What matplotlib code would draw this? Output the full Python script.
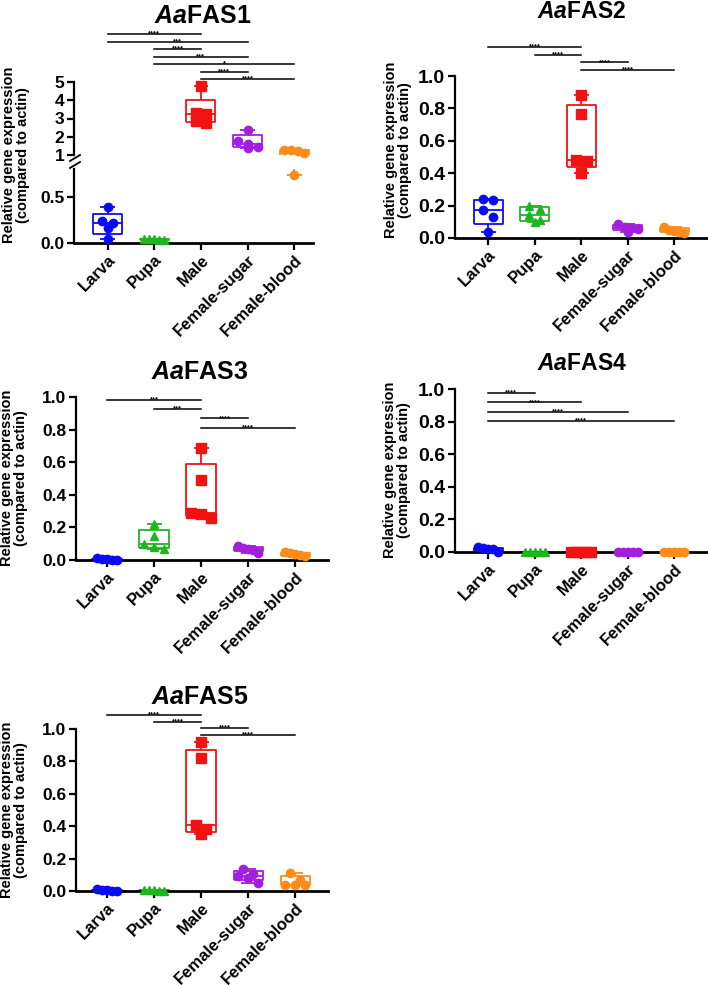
import numpy as np
import matplotlib
matplotlib.use('Agg')
import matplotlib.pyplot as plt
from matplotlib import transforms

plt.rcParams['font.family'] = ['Liberation Sans', 'DejaVu Sans']
plt.rcParams['font.weight'] = 'bold'
plt.rcParams['mathtext.fontset'] = 'custom'
plt.rcParams['mathtext.it'] = 'Liberation Sans:italic:bold'
plt.rcParams['mathtext.rm'] = 'Liberation Sans:bold'

W, H = 708, 985

# groups and styling per group
groups = ['Larva', 'Pupa', 'Male', 'Female-sugar', 'Female-blood']
colors = ['#0c0cf2', '#1fb51f', '#f21212', '#a41fdd', '#ff8c1a']
markers = ['o', '^', 's', 'o', 'o']

# relative expression values
fas1 = [[0.04, 0.165, 0.22, 0.24, 0.39],
        [0.03, 0.035, 0.04, 0.04, 0.045],
        [2.77, 2.86, 3.22, 3.30, 4.78],
        [1.40, 1.45, 1.60, 1.78, 2.38],
        [0.74, 1.10, 1.22, 1.27, 1.30]]
fas2 = [[0.04, 0.13, 0.17, 0.235, 0.24],
        [0.10, 0.11, 0.145, 0.18, 0.20],
        [0.40, 0.475, 0.48, 0.765, 0.88],
        [0.04, 0.055, 0.06, 0.07, 0.085],
        [0.03, 0.04, 0.045, 0.05, 0.07]]
fas3 = [[0.0, 0.002, 0.005, 0.008, 0.01],
        [0.065, 0.08, 0.10, 0.145, 0.22],
        [0.26, 0.285, 0.29, 0.49, 0.69],
        [0.045, 0.06, 0.065, 0.075, 0.085],
        [0.025, 0.03, 0.035, 0.04, 0.05]]
fas4 = [[0.0, 0.018, 0.02, 0.022, 0.028],
        [0.0, 0.0, 0.001, 0.001, 0.002],
        [0.0, 0.0, 0.0, 0.001, 0.001],
        [0.0, 0.0, 0.001, 0.001, 0.001],
        [0.0, 0.0, 0.0, 0.001, 0.001]]
fas5 = [[0.0, 0.003, 0.005, 0.008, 0.01],
        [0.0, 0.002, 0.004, 0.006, 0.008],
        [0.35, 0.38, 0.41, 0.82, 0.92],
        [0.052, 0.078, 0.09, 0.107, 0.134],
        [0.035, 0.037, 0.04, 0.07, 0.11]]

# significance comparisons, top to bottom
sig1 = [(0, 2, '****'), (0, 3, '***'), (1, 2, '****'), (1, 3, '***'),
        (1, 4, '*'), (2, 3, '****'), (2, 4, '****')]
sig2 = [(0, 2, '****'), (1, 2, '****'), (2, 3, '****'), (2, 4, '****')]
sig3 = [(0, 2, '***'), (1, 2, '***'), (2, 3, '****'), (2, 4, '****')]
sig4 = [(0, 1, '****'), (0, 2, '****'), (0, 3, '****'), (0, 4, '****')]
sig5 = [(0, 2, '****'), (1, 2, '****'), (2, 3, '****'), (2, 4, '****')]

fig = plt.figure(figsize=(W / 100, H / 100), dpi=100)


def rect(x0, y0, x1, y1):
    return [x0 / W, 1 - y1 / H, (x1 - x0) / W, (y1 - y0) / H]


def style_ax(ax, bottom=True, ysize=12.5):
    for s in ['top', 'right']:
        ax.spines[s].set_visible(False)
    ax.spines['left'].set_linewidth(1.6)
    ax.spines['bottom'].set_linewidth(2.0)
    if not bottom:
        ax.spines['bottom'].set_visible(False)
    ax.tick_params(axis='y', width=1.6, length=5, labelsize=ysize, pad=2)
    ax.tick_params(axis='x', width=1.6, length=5, labelsize=12, pad=1.5)
    for lab in ax.get_yticklabels():
        lab.set_fontweight('bold')


def swarm_offsets(ax, xc, vals, row_px=6.8):
    # points that sit close in height share a row and are spread around the centre
    pts = ax.transData.transform(np.column_stack([np.full(len(vals), xc), vals]))
    ys = pts[:, 1]
    px_per_x = ax.transData.transform([[1, 0]])[0, 0] - ax.transData.transform([[0, 0]])[0, 0]
    order = np.argsort(-np.asarray(vals))
    rows = []
    for k in order:
        if rows and abs(ys[rows[-1][0]] - ys[k]) < row_px:
            rows[-1].append(k)
        else:
            rows.append([k])
    offs = np.zeros(len(vals))
    for r in rows:
        m = len(r)
        if m == 1:
            continue
        dx = min(10.5, 20.0 / (m - 1))
        for j, k in enumerate(r):
            offs[k] = (j - (m - 1) / 2) * dx / px_per_x
    return offs


def draw_group(ax, i, vals, lo=None, hi=None):
    vals = np.array(vals)
    c = colors[i]
    q1, med, q3 = np.percentile(vals, [25, 50, 75], method='weibull')
    bw, cw = 0.31, 0.16
    kw = dict(color=c, lw=1.3, solid_capstyle='butt', zorder=2)
    ax.plot([i - bw, i + bw, i + bw, i - bw, i - bw], [q1, q1, q3, q3, q1], **kw)
    ax.plot([i - bw, i + bw], [med, med], **kw)
    ax.plot([i, i], [vals.min(), q1], **kw)
    ax.plot([i, i], [q3, vals.max()], **kw)
    ax.plot([i - cw, i + cw], [vals.min()] * 2, **kw)
    ax.plot([i - cw, i + cw], [vals.max()] * 2, **kw)
    offs = swarm_offsets(ax, i, vals)
    keep = np.ones(len(vals), bool)
    if lo is not None:
        keep &= vals >= lo
    if hi is not None:
        keep &= vals <= hi
    ms = 6.5 if markers[i] == 's' else 6
    ax.plot(i + offs[keep], vals[keep], linestyle='none', marker=markers[i], ms=ms,
            color=c, mec=c, clip_on=False, zorder=3)


def setup_x(ax, xlim):
    ax.set_xlim(*xlim)
    ax.set_xticks(range(len(groups)))
    ax.set_xticklabels(groups, rotation=45, ha='right', va='top',
                       rotation_mode='anchor', fontweight='bold')


def sig_bars(ax, sigs, y_top, step):
    tr = transforms.blended_transform_factory(ax.transData, fig.transFigure)
    for k, (a, b, lab) in enumerate(sigs):
        y = 1 - (y_top + k * step) / H
        ax.plot([a, b], [y, y], color='black', lw=1.1, transform=tr, clip_on=False)
        ax.text((a + b) / 2, y - 1.5 / H, lab, transform=tr, ha='center', va='baseline',
                fontsize=5.5, fontweight='bold')


def title(xc, yc, name, size=18):
    fig.text(xc / W, 1 - yc / H, r'$\mathit{Aa}$' + name, ha='center', va='center',
             fontsize=size, fontweight='bold')


def ylabel(xc, yc):
    fig.text(xc / W, 1 - yc / H, 'Relative gene expression\n(compared to actin)',
             rotation=90, ha='center', va='center', fontsize=10.5, fontweight='bold',
             multialignment='center', linespacing=1.0)


def simple_panel(box, data, sigs, sig_top, sig_step, xlim, ysize):
    ax = fig.add_axes(rect(*box))
    ax.set_ylim(0, 1.0)
    ax.set_yticks([0, 0.2, 0.4, 0.6, 0.8, 1.0])
    ax.set_yticklabels(['0.0', '0.2', '0.4', '0.6', '0.8', '1.0'])
    setup_x(ax, xlim)
    style_ax(ax, ysize=ysize)
    for i, v in enumerate(data):
        draw_group(ax, i, v)
    sig_bars(ax, sigs, sig_top, sig_step)
    return ax


# ---- AaFAS1 (broken y axis) ----
ax_up = fig.add_axes(rect(74, 82, 313, 155))
ax_lo = fig.add_axes(rect(74, 169, 313, 243))
ax_up.set_ylim(1, 5)
ax_up.set_yticks([1, 2, 3, 4, 5])
ax_lo.set_ylim(0, 0.8)
ax_lo.set_yticks([0, 0.5])
ax_lo.set_yticklabels(['0.0', '0.5'])
for a in (ax_up, ax_lo):
    setup_x(a, (-0.72, 4.4))
ax_up.tick_params(axis='x', bottom=False, labelbottom=False)
style_ax(ax_up, bottom=False)
style_ax(ax_lo)
for i, v in enumerate(fas1):
    draw_group(ax_up, i, v, lo=0.9)
    draw_group(ax_lo, i, v, hi=0.85)
# break marks
for yb in (156, 163):
    fig.add_artist(plt.Line2D([70 / W, 80 / W], [1 - (yb + 5) / H, 1 - (yb - 1) / H],
                              color='black', lw=1.3))
sig_bars(ax_up, sig1, 34, 7.5)
title(203, 16, 'FAS1')
ylabel(16, 155)

# ---- AaFAS2 ----
simple_panel((455, 76, 708, 238), fas2, sig2, 47, 7.7, (-0.71, 4.72), 14)
title(582, 12, 'FAS2', 16.5)
ylabel(398, 150)

# ---- AaFAS3 ----
simple_panel((76, 397, 328, 560), fas3, sig3, 400, 9.2, (-0.66, 4.7), 12.5)
title(200, 372, 'FAS3')
ylabel(14, 478)

# ---- AaFAS4 ----
simple_panel((455, 389, 708, 552), fas4, sig4, 393, 9.3, (-0.71, 4.72), 14)
title(582, 363, 'FAS4', 16.5)
ylabel(397, 470)

# ---- AaFAS5 ----
simple_panel((76, 729, 328, 891), fas5, sig5, 715, 6.6, (-0.66, 4.7), 12.5)
title(200, 697, 'FAS5')
ylabel(14, 810)

fig.savefig('out.png', dpi=100)
